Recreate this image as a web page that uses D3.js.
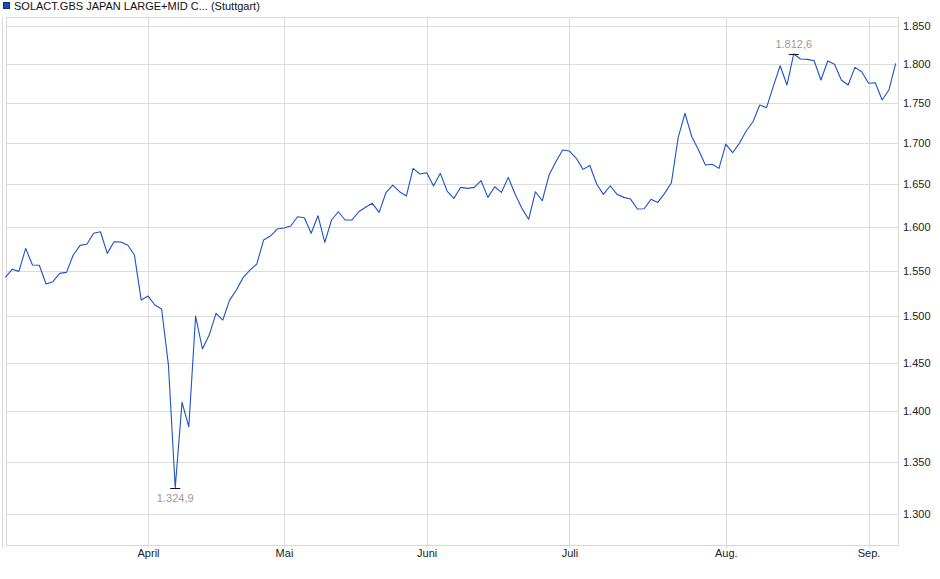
<!DOCTYPE html>
<html>
<head>
<meta charset="utf-8">
<script src="https://cdn.jsdelivr.net/npm/d3@7"></script>
<style>
  body { margin: 0; background: #fff; }
  svg { display: block; font-family: "Liberation Sans", Arial, sans-serif; }
</style>
</head>
<body>
<svg id="chart" width="940" height="579"></svg>
<script>
// closing prices, one per trading day (Stuttgart), early March to early September
var prices = [
  1542.4, 1551.4, 1549.1, 1575.1, 1556.2, 1556.0, 1535.0, 1537.6, 1546.9, 1548.0,
  1567.5, 1578.5, 1579.7, 1592.3, 1594.1, 1569.4, 1582.6, 1582.4, 1578.9, 1567.5,
  1517.3, 1521.7, 1511.9, 1507.5, 1447.7, 1324.9, 1409.2, 1384.6, 1499.9, 1464.6,
  1479.4, 1502.8, 1495.6, 1517.3, 1528.4, 1542.4, 1550.6, 1557.3, 1584.6, 1589.2,
  1597.2, 1598.4, 1600.7, 1611.5, 1610.3, 1592.3, 1612.7, 1581.9, 1607.7, 1617.3,
  1607.7, 1607.9, 1617.3, 1622.5, 1627.2, 1616.6, 1639.7, 1648.8, 1640.9, 1635.8,
  1668.8, 1662.0, 1663.6, 1647.6, 1662.8, 1641.7, 1633.0, 1646.1, 1644.9, 1646.1,
  1654.0, 1634.2, 1646.8, 1640.2, 1658.0, 1638.2, 1621.3, 1608.5, 1640.9, 1630.2,
  1660.8, 1676.8, 1691.1, 1689.8, 1681.0, 1667.6, 1672.2, 1650.0, 1637.8, 1648.0,
  1637.8, 1634.2, 1632.2, 1620.5, 1620.8, 1631.9, 1628.3, 1638.9, 1651.6, 1706.7,
  1736.5, 1707.4, 1691.1, 1672.8, 1673.7, 1668.8, 1698.4, 1687.8, 1699.3, 1714.5,
  1726.0, 1747.0, 1743.6, 1771.1, 1797.3, 1772.4, 1812.6, 1806.0, 1805.6, 1803.8,
  1778.8, 1803.4, 1799.1, 1778.8, 1772.4, 1795.2, 1789.5, 1774.6, 1775.4, 1753.3,
  1766.0, 1800.4
];

// first trading day of each month, as index into prices
var monthLabels = ["April", "Mai", "Juni", "Juli", "Aug.", "Sep."];
var monthStarts = [21, 41, 62, 83, 106, 127];

var yTicks = [1300, 1350, 1400, 1450, 1500, 1550, 1600, 1650, 1700, 1750, 1800, 1850];

var title = "SOLACT.GBS JAPAN LARGE+MID C... (Stuttgart)";

var de = d3.formatLocale({ decimal: ",", thousands: ".", grouping: [3], currency: ["", " €"] });
var fmtTick = de.format(",.0f"),
  fmtValue = de.format(",.1f");

var plot = { left: 6, right: 898, top: 17, bottom: 545 };

var svg = d3.select("#chart");

var x = d3.scaleLinear()
  .domain([0, prices.length - 1])
  .range([5.3, 895.7]);

var y = d3.scaleLog()
  .domain([1271.2, 1861.7])
  .range([plot.bottom, plot.top]);

// horizontal grid
svg.append("g")
  .attr("class", "grid-y")
  .attr("transform", "translate(" + plot.left + ",0)")
  .call(d3.axisLeft(y).tickValues(yTicks).tickSize(-(plot.right - plot.left)).tickFormat(""))
  .call(function(g) {
    g.select(".domain").remove();
    g.selectAll("line").attr("stroke", "#dcdcdc").attr("shape-rendering", "crispEdges");
  });

// vertical grid at month starts, with small ticks below the frame
svg.append("g")
  .attr("class", "grid-x")
  .attr("transform", "translate(0," + (plot.bottom + 3) + ")")
  .call(d3.axisBottom(x).tickValues(monthStarts).tickSize(-(plot.bottom + 3 - plot.top)).tickFormat(""))
  .call(function(g) {
    g.select(".domain").remove();
    g.selectAll("line").attr("stroke", "#dcdcdc").attr("shape-rendering", "crispEdges");
  });

// frame
svg.append("rect")
  .attr("x", plot.left + 0.5)
  .attr("y", plot.top + 0.5)
  .attr("width", plot.right - plot.left)
  .attr("height", plot.bottom - plot.top)
  .attr("fill", "none")
  .attr("stroke", "#d8d8d8");

svg.append("line")
  .attr("x1", 2.5).attr("x2", 2.5)
  .attr("y1", plot.top).attr("y2", plot.bottom + 3)
  .attr("stroke", "#d8d8d8");

// month labels
svg.append("g")
  .attr("class", "axis-x")
  .attr("transform", "translate(0," + plot.bottom + ")")
  .call(d3.axisBottom(x).tickValues(monthStarts).tickSize(0).tickPadding(4)
    .tickFormat(function(d, i) { return monthLabels[i]; }))
  .call(function(g) {
    g.select(".domain").remove();
    g.selectAll("text")
      .attr("fill", "#222")
      .style("font-size", "11px")
      .style("font-family", "Liberation Sans, Arial, sans-serif");
  });

// price labels on the right
svg.append("g")
  .attr("class", "axis-y")
  .attr("transform", "translate(" + plot.right + ",0)")
  .call(d3.axisRight(y).tickValues(yTicks).tickSize(0).tickPadding(5).tickFormat(fmtTick))
  .call(function(g) {
    g.select(".domain").remove();
    g.selectAll("text")
      .attr("fill", "#222")
      .style("font-size", "11px")
      .style("font-family", "Liberation Sans, Arial, sans-serif");
  });

// price line
var line = d3.line()
  .x(function(d, i) { return x(i); })
  .y(function(d) { return y(d); });

svg.append("path")
  .datum(prices)
  .attr("d", line)
  .attr("fill", "none")
  .attr("stroke", "#1a55c2")
  .attr("stroke-width", 1.1)
  .attr("stroke-linejoin", "round");

// min / max markers
var iMin = d3.minIndex(prices),
  iMax = d3.maxIndex(prices);

var marks = [
  { i: iMin, v: prices[iMin], dy: 14 },
  { i: iMax, v: prices[iMax], dy: -6 }
];

var mg = svg.append("g").attr("class", "extremes");

mg.selectAll("line")
  .data(marks)
  .enter()
  .append("line")
  .attr("x1", function(d) { return x(d.i) - 5; })
  .attr("x2", function(d) { return x(d.i) + 5; })
  .attr("y1", function(d) { return Math.round(y(d.v)) + 0.5; })
  .attr("y2", function(d) { return Math.round(y(d.v)) + 0.5; })
  .attr("stroke", "#111")
  .attr("stroke-width", 1);

mg.selectAll("text")
  .data(marks)
  .enter()
  .append("text")
  .attr("x", function(d) { return x(d.i); })
  .attr("y", function(d) { return y(d.v) + d.dy; })
  .attr("text-anchor", "middle")
  .attr("fill", "#a09a94")
  .style("font-size", "11px")
  .text(function(d) { return fmtValue(d.v); });

// title with series swatch
svg.append("rect")
  .attr("x", 3.5).attr("y", 2.5)
  .attr("width", 6).attr("height", 6)
  .attr("fill", "#1a4fb5")
  .attr("stroke", "#0d2f75");

svg.append("text")
  .attr("x", 14)
  .attr("y", 10)
  .attr("fill", "#111")
  .style("font-size", "11px")
  .text(title);
</script>
</body>
</html>
